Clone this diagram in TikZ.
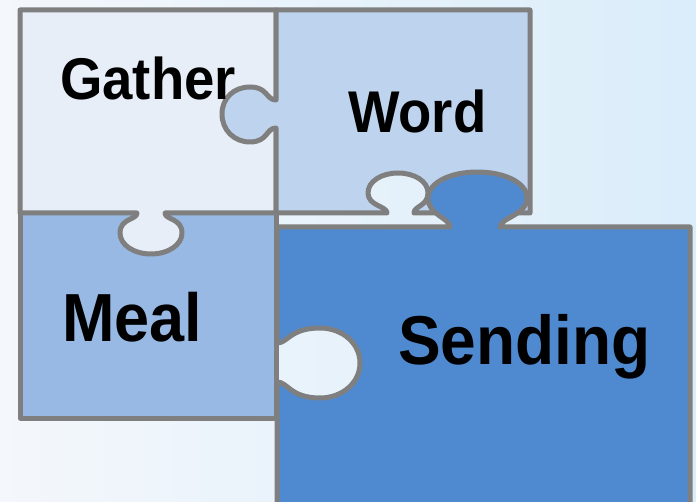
\documentclass[tikz,border=0pt]{standalone}
\usepackage{fontspec}
\setmainfont{Liberation Sans}
\definecolor{bgL}{HTML}{F4F7FB}
\definecolor{bgR}{HTML}{DAEDFA}
\definecolor{gatherc}{HTML}{E8EEF7}
\definecolor{wordc}{HTML}{BED3EE}
\definecolor{mealc}{HTML}{97B9E3}
\definecolor{sendc}{HTML}{4F8AD1}
\definecolor{edgec}{HTML}{7F7F7F}
\tikzset{
  piece/.style={draw=edgec, line width=5pt, line join=round},
  lbl/.style={anchor=base west, inner sep=0pt, font=\bfseries},
}
\newcommand{\tallbox}[1]{\scalebox{1}[1.08]{#1}}
\begin{document}
\begin{tikzpicture}[x=1pt,y=-1pt]
\useasboundingbox (0,0) rectangle (696,502);
\shade[left color=bgL, right color=bgR] (0,0) rectangle (696,502);
% Meal
\path[piece, fill=mealc] (20,213) rectangle (276,418);
% Gather with knob down into Meal
\path[piece, fill=gatherc] (20,10) -- (276,10) -- (276,213) -- (165,213)
  .. controls (165,220) and (182,218) .. (182,233)
  .. controls (182,245) and (168,254) .. (151,254)
  .. controls (134,254) and (120,245) .. (120,233)
  .. controls (120,218) and (137,220) .. (137,213)
  -- (20,213) -- cycle;
% Word with knob left into Gather and hole at bottom
\path[piece, fill=wordc] (276,10) -- (530,10) -- (530,213) -- (414,213)
  .. controls (414,206) and (428,206) .. (428,193)
  .. controls (428,181) and (414,173) .. (398,173)
  .. controls (382,173) and (368,181) .. (368,193)
  .. controls (368,206) and (387,206) .. (387,213)
  -- (276,213) -- (276,128)
  .. controls (266,128) and (268,142) .. (250,142)
  .. controls (234,142) and (222,130) .. (222,114)
  .. controls (222,98) and (234,87) .. (250,87)
  .. controls (268,87) and (266,100) .. (276,100)
  -- cycle;
% Sending with knob up into Word and hole on the left
\path[piece, fill=sendc] (277,227) -- (450,227)
  .. controls (450,218) and (428,215) .. (428,198)
  .. controls (428,183) and (450,172) .. (477,172)
  .. controls (505,172) and (527,183) .. (527,198)
  .. controls (527,215) and (500,218) .. (500,227)
  -- (690,227) -- (690,510) -- (277,510) -- (277,382)
  .. controls (288,382) and (290,398) .. (320,398)
  .. controls (342,398) and (360,383) .. (360,363)
  .. controls (360,343) and (342,328) .. (320,328)
  .. controls (290,328) and (288,343) .. (277,343)
  -- cycle;
% Labels
\node[lbl, font=\bfseries\fontsize{54.5}{54}\selectfont] (gather) at (60,100) {\tallbox{Gather}};
\node[lbl, font=\bfseries\fontsize{54.5}{54}\selectfont] (word) at (348,133) {\tallbox{Word}};
\node[lbl, font=\bfseries\fontsize{63}{62}\selectfont] (meal) at (62,342) {\tallbox{Meal}};
\node[lbl, font=\bfseries\fontsize{64}{63}\selectfont] (sending) at (398,365) {\tallbox{Sending}};
\end{tikzpicture}
\end{document}
